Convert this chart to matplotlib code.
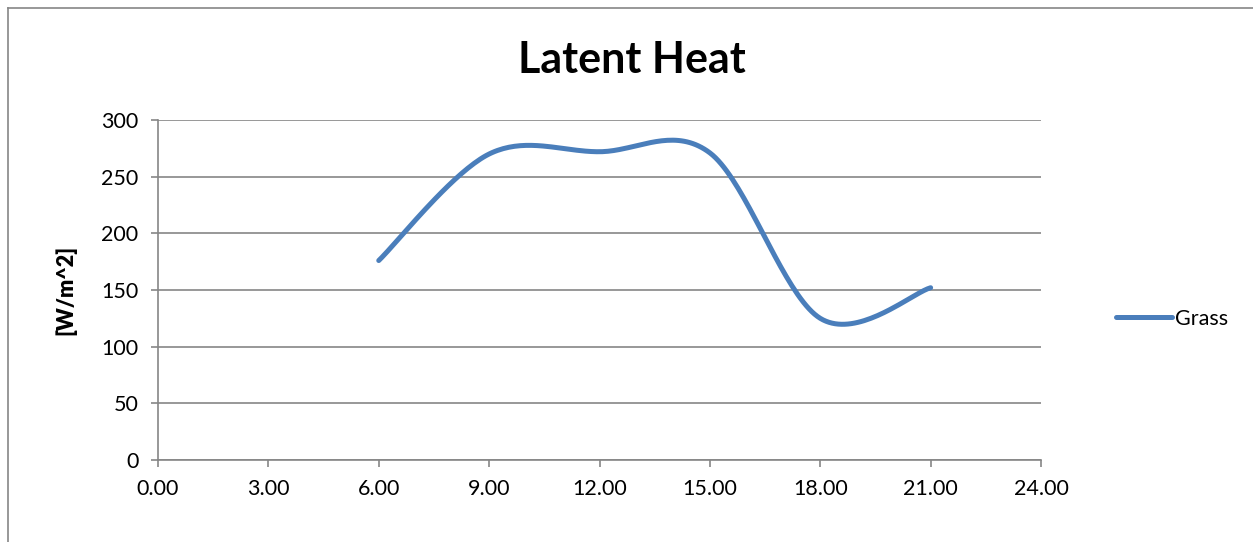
import numpy as np
import matplotlib
matplotlib.use("Agg")
import matplotlib.pyplot as plt
from matplotlib.lines import Line2D

# values
hours = [6, 9, 12, 15, 18, 21]
grass = [176, 270, 272, 271, 125, 152]
xticks = [0, 3, 6, 9, 12, 15, 18, 21, 24]
yticks = [0, 50, 100, 150, 200, 250, 300]

plt.rcParams['font.family'] = ['Lato', 'DejaVu Sans']


# Excel style smoothed line (Catmull-Rom through the points)
def smooth(x, y, n=40):
    x = np.asarray(x, float)
    y = np.asarray(y, float)
    px = np.concatenate([[x[0]], x, [x[-1]]])
    py = np.concatenate([[y[0]], y, [y[-1]]])
    xs, ys = [], []
    t = np.linspace(0, 1, n)
    for i in range(1, len(px) - 2):
        for p, out in ((px, xs), (py, ys)):
            p0, p1, p2, p3 = p[i - 1], p[i], p[i + 1], p[i + 2]
            m1 = (p2 - p0) / 2
            m2 = (p3 - p1) / 2
            h00 = 2 * t**3 - 3 * t**2 + 1
            h10 = t**3 - 2 * t**2 + t
            h01 = -2 * t**3 + 3 * t**2
            h11 = t**3 - t**2
            out.append(h00 * p1 + h10 * m1 + h01 * p2 + h11 * m2)
    return np.concatenate(xs), np.concatenate(ys)


fig = plt.figure(figsize=(12.53, 5.42), dpi=100)
ax = fig.add_axes([158 / 1253, 1 - 460 / 542, (1041 - 158) / 1253, (460 - 120) / 542])

sx, sy = smooth(hours, grass)
ax.plot(sx, sy, color='#4A7EBB', lw=3.6, solid_capstyle='round', label='Grass')

ax.set_xlim(0, 24)
ax.set_ylim(0, 300)
ax.set_xticks(xticks)
ax.set_xticklabels(['%.2f' % v for v in xticks])
ax.set_yticks(yticks)
ax.grid(axis='y', color='#868686', lw=1.2)
ax.set_axisbelow(True)
for s in ['top', 'right']:
    ax.spines[s].set_visible(False)
for s in ['left', 'bottom']:
    ax.spines[s].set_color('#868686')
    ax.spines[s].set_linewidth(1.2)
ax.tick_params(axis='both', colors='#868686', labelcolor='black', labelsize=15.5,
               length=5, width=1.2)
ax.tick_params(axis='x', pad=9)
ax.tick_params(axis='y', pad=9)

ax.set_ylabel('[W/m^2]', fontsize=15.5, fontweight='heavy', labelpad=18)
fig.text(632 / 1253, 1 - 60 / 542, 'Latent Heat', fontsize=31, fontweight='bold',
         ha='center', va='center')

ax.legend(loc='center left', bbox_to_anchor=(1.063, 0.415), frameon=False,
          fontsize=15.5, handlelength=2.6, handletextpad=0.15)

# chart border (only top and left edges are visible)
fig.add_artist(Line2D([8 / 1253, 1], [1 - 8 / 542, 1 - 8 / 542], color='#868686', lw=1.2))
fig.add_artist(Line2D([8 / 1253, 8 / 1253], [0, 1 - 8 / 542], color='#868686', lw=1.2))

fig.savefig('out.png', dpi=100)
